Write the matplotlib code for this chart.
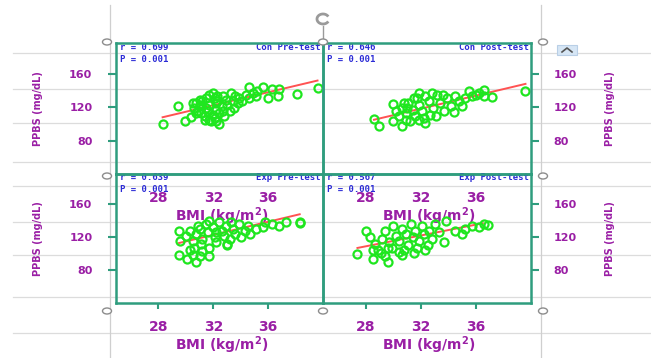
import matplotlib
matplotlib.use('Agg')
import matplotlib.pyplot as plt
from matplotlib.lines import Line2D
from matplotlib.patches import Ellipse, Arc, FancyBboxPatch
import numpy as np

# values
con_pre_bmi = [28.3, 29.4, 29.9, 30.4, 30.7, 31.0, 31.1, 31.4, 31.5, 31.7, 32.0, 32.1, 32.2, 32.4, 31.8,
               32.8, 33.5, 33.3, 32.7, 32.9, 33.9, 34.4, 34.6, 34.9, 35.1, 35.6, 36.0, 36.3, 36.7, 36.8,
               38.1, 39.6, 30.6, 30.9, 31.2, 31.6, 31.7, 32.0, 32.2, 32.3, 32.6, 32.4, 33.0, 33.4, 33.6,
               34.1, 31.5, 31.0, 30.5, 31.4, 32.1, 32.2, 32.7, 33.2, 33.8, 34.6, 35.2, 31.7, 32.3, 31.1, 30.7]
con_pre_ppbs = [100, 122, 104, 108, 125, 121, 113, 109, 119, 105, 137, 131, 125, 100, 103,
                110, 119, 137, 133, 129, 131, 135, 144, 137, 133, 144, 131, 142, 134, 142,
                136, 143, 119, 115, 127, 115, 123, 111, 117, 133, 121, 113, 123, 127, 133,
                127, 131, 129, 125, 105, 107, 103, 115, 115, 125, 131, 139, 135, 127, 123, 113]

con_post_bmi = [28.6, 28.95, 30.0, 30.6, 30.0, 32.3, 34.4, 35.0, 35.5, 36.6, 36.6, 37.2, 39.6,
                30.6, 30.9, 31.1, 31.4, 31.6, 31.7, 31.9, 32.1, 32.3, 32.6, 32.7, 32.9, 33.2, 33.4,
                33.7, 33.9, 34.2, 34.5, 34.8, 30.9, 31.2, 31.9, 30.4, 30.2, 31.5, 32.2, 33.1, 35.2,
                35.7, 36.0, 36.2, 31.9, 32.8, 33.6, 30.8, 31.0]
con_post_ppbs = [106, 98, 104, 98, 124, 101, 114, 122, 139, 141, 133, 132, 139,
                 119, 113, 125, 117, 109, 131, 123, 115, 133, 127, 111, 119, 135, 125,
                 115, 131, 121, 133, 127, 105, 103, 105, 109, 115, 131, 107, 109, 131,
                 133, 135, 137, 137, 137, 135, 125, 119]

exp_pre_bmi = [29.5, 29.6, 29.5, 30.1, 30.7, 31.0, 31.7, 33.0, 34.0, 34.7, 35.6, 36.3, 37.3, 38.3, 38.3,
               30.0, 30.3, 30.5, 30.6, 30.7, 31.0, 31.1, 31.2, 31.5, 31.6, 31.7, 32.0, 32.1, 32.2, 32.4,
               32.6, 32.8, 32.9, 33.2, 33.4, 33.6, 33.9, 34.3, 34.5, 35.1, 35.8, 30.3, 31.2, 30.5, 32.2,
               33.3, 31.7, 30.9, 36.8, 33.0]
exp_pre_ppbs = [128, 115, 99, 93, 90, 97, 97, 110, 120, 124, 132, 136, 139, 137, 139,
                122, 128, 116, 107, 124, 130, 112, 118, 136, 126, 107, 132, 120, 114, 138,
                128, 122, 134, 118, 130, 124, 136, 128, 134, 130, 138, 105, 103, 99, 126,
                138, 140, 134, 134, 112]

exp_post_bmi = [27.4, 28.0, 28.5, 29.6, 30.4, 32.3, 33.7, 33.8, 35.0, 35.7, 36.9, 28.3,
                28.7, 28.9, 29.2, 29.4, 29.7, 29.9, 30.0, 30.2, 30.4, 30.6, 30.8, 30.9, 31.1, 31.3,
                31.4, 31.6, 31.7, 31.9, 32.1, 32.2, 32.5, 32.6, 32.8, 33.0, 33.3, 30.6, 29.4, 29.1,
                31.5, 34.5, 35.2, 36.2, 36.6, 28.5, 29.6]
exp_post_ppbs = [100, 128, 93, 90, 102, 105, 114, 140, 124, 134, 135, 120,
                 112, 105, 118, 128, 114, 107, 134, 122, 116, 130, 105, 124, 111, 136,
                 120, 128, 107, 116, 134, 124, 110, 128, 118, 136, 126, 99, 97, 101,
                 101, 128, 130, 132, 136, 105, 107]

# regression lines (end points)
fit_bmi = [[28.3, 39.6], [28.6, 39.6], [29.5, 38.3], [27.4, 36.5]]
fit_ppbs = [[108, 152], [105, 148], [113, 148], [107, 137]]

groups = ['Con Pre-test', 'Con Post-test', 'Exp Pre-test', 'Exp Post-test']
r_values = ['0.699', '0.646', '0.639', '0.567']
p_values = ['0.001', '0.001', '0.001', '0.001']
bmi_ticks = [28, 32, 36]
ppbs_ticks = [80, 120, 160]

TEAL = '#2f9d7e'
PURPLE = '#9a1fa5'
BLUE = '#2b2bd6'
GREEN = '#1fe61f'
RED = '#ff5252'
GRID = '#dcdcdc'

W, H = 651, 358


def fx(x):
    return x / W


def fy(y):
    return 1 - y / H


fig = plt.figure(figsize=(W / 100, H / 100), dpi=100)
fig.patch.set_facecolor('white')

# page lines behind the chart
for y in [53, 89, 123, 162, 186, 222, 255, 297, 333]:
    fig.add_artist(Line2D([fx(13), 1], [fy(y), fy(y)], color=GRID, lw=0.9, zorder=0))
for x in [110, 541]:
    fig.add_artist(Line2D([fx(x), fx(x)], [fy(5), 0], color='#cfcfcf', lw=0.9, zorder=0))

# panel boxes: (left, top, right, bottom) in pixels
boxes = [(116, 43, 323, 174), (323, 43, 531, 174), (116, 174, 323, 303), (323, 174, 531, 303)]
xs = [con_pre_bmi, con_post_bmi, exp_pre_bmi, exp_post_bmi]
ys = [con_pre_ppbs, con_post_ppbs, exp_pre_ppbs, exp_post_ppbs]

for i, (l, t, r, b) in enumerate(boxes):
    ax = fig.add_axes([fx(l), fy(b), fx(r) - fx(l), fy(t) - fy(b)])
    ax.set_facecolor('none')
    ax.set_xlim(24.9, 40)
    ax.set_ylim(40, 197)
    hgt = b - t

    ax.plot(fit_bmi[i], fit_ppbs[i], color=RED, lw=1.4, zorder=3)
    ax.plot(xs[i], ys[i], 'o', ms=5.8, mfc='none', mec=GREEN, mew=1.6, zorder=4)

    for s in ax.spines.values():
        s.set_color(TEAL)
        s.set_linewidth(1.8)
        s.set_zorder(5)

    ax.set_xticks(bmi_ticks)
    ax.set_yticks(ppbs_ticks)
    top_row = i < 2
    ax.tick_params(axis='x', direction='out', colors=TEAL, length=0 if top_row else 4.5,
                   width=1.5, pad=12.5 if top_row else 8, labelcolor=PURPLE, labelsize=10)
    if i % 2 == 0:
        ax.yaxis.tick_left()
        ax.yaxis.set_label_position('left')
    else:
        ax.yaxis.tick_right()
        ax.yaxis.set_label_position('right')
    ax.tick_params(axis='y', direction='out', colors=TEAL, length=6, width=1.5,
                   pad=11 if i % 2 == 0 else 10, labelcolor=PURPLE, labelsize=8)
    for lab in ax.get_xticklabels() + ax.get_yticklabels():
        lab.set_fontweight('bold')

    ax.set_xlabel('BMI (kg/m$^{\\mathbf{2}}$)', color=PURPLE, fontsize=10, fontweight='bold')
    ax.xaxis.set_label_coords(0.51, -31 / hgt)
    ax.set_ylabel('PPBS (mg/dL)', color=PURPLE, fontsize=7, fontweight='bold')
    if i % 2 == 0:
        ax.yaxis.set_label_coords((43 - l) / (r - l), 0.5)
    else:
        ax.yaxis.set_label_coords((605 - l) / (r - l), 0.5)

    ax.text(0.02, 1 - 4 / hgt, 'r = ' + r_values[i], transform=ax.transAxes, color=BLUE,
            fontsize=6.5, fontweight='bold', family='DejaVu Sans Mono', va='center', zorder=2)
    ax.text(0.02, 1 - 16 / hgt, 'P = ' + p_values[i], transform=ax.transAxes, color=BLUE,
            fontsize=6.5, fontweight='bold', family='DejaVu Sans Mono', va='center', zorder=2)
    ax.text(0.99, 1 - 4 / hgt, groups[i], transform=ax.transAxes, color=BLUE, ha='right',
            fontsize=6.5, fontweight='bold', family='DejaVu Sans Mono', va='center', zorder=2)

# selection frame handles
for hx in [107, 323, 543]:
    for hy in [42, 176, 311]:
        if hx == 323 and hy == 176:
            continue
        fig.add_artist(Ellipse((fx(hx), fy(hy)), 9 / W, 6 / H, facecolor='white',
                               edgecolor='#8c8c8c', lw=1.0, zorder=10))
fig.add_artist(Line2D([fx(323), fx(323)], [fy(26), fy(39)], color='#9a9a9a', lw=1.0, zorder=9))
fig.add_artist(Arc((fx(323), fy(19)), 12 / W, 10 / H, theta1=40, theta2=320,
                   color='#9a9a9a', lw=2.0, zorder=10))
fig.add_artist(FancyBboxPatch((fx(557), fy(55)), 20 / W, 10 / H, boxstyle='square,pad=0',
                              facecolor='#d6e6f5', edgecolor='#b9cfe6', lw=0.8, zorder=10))
fig.add_artist(Line2D([fx(562), fx(567), fx(572)], [fy(52), fy(48), fy(52)],
                      color='#555555', lw=1.2, zorder=11))

fig.savefig('out.png', dpi=100)
